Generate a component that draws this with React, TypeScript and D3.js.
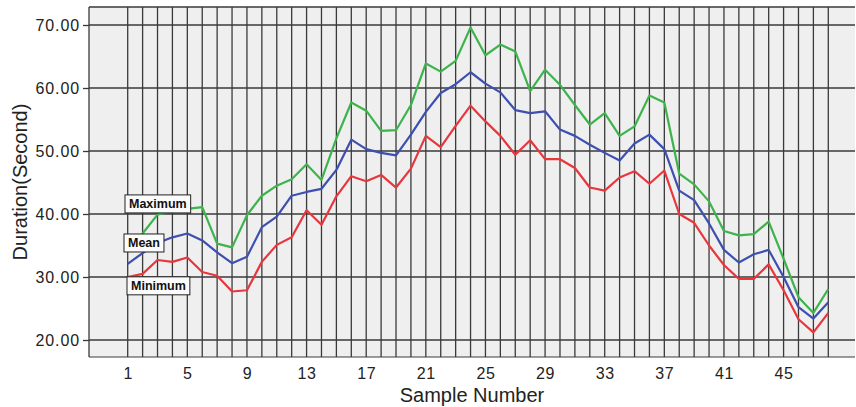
import React, { useEffect, useRef } from "react";
import * as d3 from "d3";

// sample numbers 1..48
const samples = [
  1, 2, 3, 4, 5, 6, 7, 8, 9, 10, 11, 12, 13, 14, 15, 16, 17, 18, 19, 20, 21, 22, 23, 24,
  25, 26, 27, 28, 29, 30, 31, 32, 33, 34, 35, 36, 37, 38, 39, 40, 41, 42, 43, 44, 45, 46, 47, 48,
];

const maximum = [
  34.8, 36.9, 39.9, 40.5, 40.8, 41.1, 35.3, 34.7, 39.8, 42.9, 44.5, 45.5, 47.9, 45.4, 52.0, 57.7,
  56.4, 53.2, 53.3, 57.3, 63.9, 62.6, 64.3, 69.6, 65.2, 66.9, 65.8, 59.5, 62.9, 60.5, 57.3, 54.2,
  56.0, 52.4, 53.9, 58.8, 57.7, 46.4, 44.7, 42.0, 37.3, 36.6, 36.8, 38.8, 32.9, 26.8, 24.3, 28.1,
];

const mean = [
  32.1, 33.8, 35.4, 36.3, 36.9, 35.8, 33.9, 32.2, 33.2, 37.9, 39.6, 42.9, 43.5, 44.0, 47.0, 51.8,
  50.3, 49.7, 49.3, 52.6, 56.2, 59.2, 60.6, 62.5, 60.7, 59.3, 56.5, 56.0, 56.3, 53.4, 52.4, 51.0,
  49.7, 48.5, 51.2, 52.6, 50.3, 43.7, 42.2, 38.5, 34.3, 32.3, 33.6, 34.3, 30.0, 25.2, 23.4, 26.0,
];

const minimum = [
  30.0, 30.5, 32.7, 32.4, 33.1, 30.8, 30.2, 27.7, 27.9, 32.4, 35.1, 36.3, 40.6, 38.3, 42.8, 46.0,
  45.2, 46.2, 44.2, 47.2, 52.4, 50.6, 54.0, 57.2, 54.7, 52.4, 49.4, 51.7, 48.7, 48.7, 47.3, 44.2,
  43.7, 45.8, 46.8, 44.8, 46.9, 40.0, 38.6, 35.0, 31.9, 29.7, 29.7, 32.0, 27.9, 23.3, 21.2, 24.3,
];

const xTicks = [1, 5, 9, 13, 17, 21, 25, 29, 33, 37, 41, 45];
const yTicks = [20, 30, 40, 50, 60, 70];

const seriesNames = ["Maximum", "Mean", "Minimum"];
const seriesColors = ["#3cb44b", "#3d4fb0", "#e8363d"];

export default function App() {
  const ref = useRef<SVGSVGElement>(null);

  useEffect(() => {
    const width = 856,
      height = 407;
    const plot = { left: 89, top: 7, right: 855, bottom: 357 };

    const svg = d3.select(ref.current);
    svg.selectAll("*").remove();

    const x = d3.scaleLinear().domain([1, 48]).range([127.7, 828.3]);
    const y = d3.scaleLinear().domain([20, 70]).range([340, 25]);

    // plot background
    svg.append("rect")
      .attr("x", plot.left)
      .attr("y", plot.top)
      .attr("width", plot.right - plot.left)
      .attr("height", plot.bottom - plot.top)
      .attr("fill", "#efefef");

    const grid = svg.append("g").attr("stroke", "#3a3a3a").attr("stroke-width", 1.3);

    // vertical grid line per sample
    grid.selectAll("line.v")
      .data(samples)
      .enter()
      .append("line")
      .attr("class", "v")
      .attr("x1", (d) => x(d))
      .attr("x2", (d) => x(d))
      .attr("y1", plot.top)
      .attr("y2", plot.bottom);

    // horizontal grid lines
    grid.selectAll("line.h")
      .data(yTicks)
      .enter()
      .append("line")
      .attr("class", "h")
      .attr("x1", plot.left)
      .attr("x2", plot.right)
      .attr("y1", (d) => y(d))
      .attr("y2", (d) => y(d));

    // frame (top + left + bottom)
    grid.append("line").attr("x1", plot.left).attr("x2", plot.right).attr("y1", plot.top).attr("y2", plot.top);
    grid.append("line").attr("x1", plot.left).attr("x2", plot.left).attr("y1", plot.top).attr("y2", plot.bottom);
    grid.append("line").attr("x1", plot.left).attr("x2", plot.right).attr("y1", plot.bottom).attr("y2", plot.bottom)
      .attr("stroke-width", 1);

    // y axis
    const yAxis = d3.axisLeft(y).tickValues(yTicks).tickSize(6).tickPadding(3).tickFormat(d3.format(".2f"));
    const yG = svg.append("g").attr("transform", `translate(${plot.left},0)`).call(yAxis);
    yG.select(".domain").remove();
    yG.selectAll("line").attr("stroke", "#3a3a3a").attr("stroke-width", 1.3);
    yG.selectAll("text")
      .attr("font-family", "'Liberation Sans', Arial, sans-serif")
      .attr("font-size", 16)
      .attr("letter-spacing", 0.9)
      .attr("fill", "#222");

    // x axis labels
    const xAxis = d3.axisBottom(x).tickValues(xTicks).tickSize(0).tickPadding(11).tickFormat(d3.format("d"));
    const xG = svg.append("g").attr("transform", `translate(0,${plot.bottom})`).call(xAxis);
    xG.select(".domain").remove();
    xG.selectAll("text")
      .attr("font-family", "'Liberation Sans', Arial, sans-serif")
      .attr("font-size", 16)
      .attr("letter-spacing", 0.6)
      .attr("fill", "#222");

    // axis titles
    svg.append("text")
      .attr("x", (plot.left + plot.right) / 2)
      .attr("y", 402)
      .attr("text-anchor", "middle")
      .attr("font-family", "'Liberation Sans', Arial, sans-serif")
      .attr("font-size", 20)
      .attr("fill", "#222")
      .text("Sample Number");

    svg.append("text")
      .attr("transform", `translate(27,${(plot.top + plot.bottom) / 2}) rotate(-90)`)
      .attr("text-anchor", "middle")
      .attr("font-family", "'Liberation Sans', Arial, sans-serif")
      .attr("font-size", 20)
      .attr("fill", "#222")
      .text("Duration(Second)");

    // lines
    const allSeries = [maximum, mean, minimum];
    const line = d3.line<number>()
      .x((d, i) => x(samples[i]))
      .y((d) => y(d));

    allSeries.forEach((values, i) => {
      svg.append("path")
        .attr("d", line(values))
        .attr("fill", "none")
        .attr("stroke", seriesColors[i])
        .attr("stroke-width", 2.2)
        .attr("stroke-linejoin", "round");
    });

    // series labels at the start of each line
    const labelY = [41.6, 35.4, 28.6];
    const labelX = [125, 124, 127];
    seriesNames.forEach((name, i) => {
      const g = svg.append("g");
      const t = g.append("text")
        .attr("x", labelX[i] + 4)
        .attr("y", y(labelY[i]) + 4.5)
        .attr("font-family", "'Liberation Sans', Arial, sans-serif")
        .attr("font-weight", "bold")
        .attr("font-size", 12.5)
        .attr("fill", "#111")
        .text(name);
      const bb = (t.node() as SVGTextElement).getBBox();
      g.insert("rect", "text")
        .attr("x", labelX[i])
        .attr("y", y(labelY[i]) - 9)
        .attr("width", bb.width + 8)
        .attr("height", 18)
        .attr("fill", "#fbfbfb")
        .attr("stroke", "#222")
        .attr("stroke-width", 1);
    });
  }, []);

  return (
    <svg
      ref={ref}
      width={856}
      height={407}
      style={{ position: "absolute", left: 0, top: 0, background: "#fff" }}
    />
  );
}
